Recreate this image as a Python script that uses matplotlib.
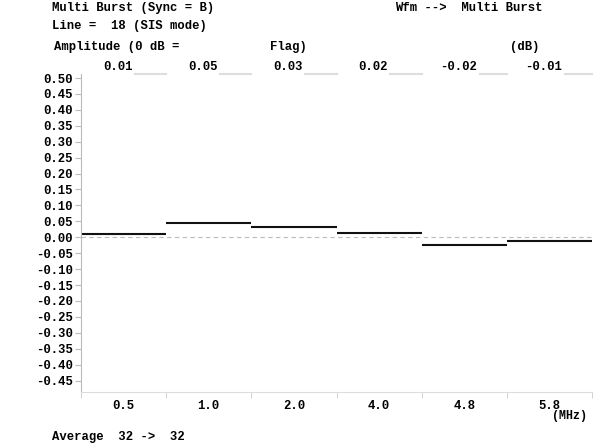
import matplotlib.pyplot as plt

# Multi burst amplitude per packet (dB)
freqs = ['0.5', '1.0', '2.0', '4.0', '4.8', '5.8']
header_vals = ['0.01', '0.05', '0.03', '0.02', '-0.02', '-0.01']
amplitude = [0.010, 0.046, 0.033, 0.014, -0.024, -0.011]
yticks = [0.50, 0.45, 0.40, 0.35, 0.30, 0.25, 0.20, 0.15, 0.10, 0.05, 0.00,
          -0.05, -0.10, -0.15, -0.20, -0.25, -0.30, -0.35, -0.40, -0.45]

plt.rcParams['font.family'] = ['Liberation Mono', 'DejaVu Sans Mono']
plt.rcParams['font.weight'] = 'bold'
fs = 8.8

fig = plt.figure(figsize=(6, 4.44), dpi=100)
ax = fig.add_axes([81 / 600, 1 - 392 / 444, 511 / 600, 318 / 444])

n = len(freqs)
for i, v in enumerate(amplitude):
    ax.hlines(v, i, i + 1, color='#111111', lw=1.5)

ax.axhline(0, color='#bbbbbb', lw=0.8, ls=(0, (4, 3)), zorder=0)

ax.set_xlim(0, n)
ax.set_ylim(-0.486, 0.5126)
ax.set_yticks(yticks)
ax.set_yticklabels(['%.2f' % t for t in yticks], fontsize=fs, fontweight='bold')
ax.set_xticks([i + 0.5 for i in range(n)])
ax.set_xticklabels(freqs, fontsize=fs, fontweight='bold')
ax.set_xticks(range(n + 1), minor=True)
ax.tick_params(axis='x', which='major', length=0, pad=6)
ax.tick_params(axis='x', which='minor', length=4, color='#cccccc', direction='out')
ax.tick_params(axis='y', length=4, color='#bbbbbb', pad=2)

for s in ['top', 'right']:
    ax.spines[s].set_visible(False)
ax.spines['left'].set_color('#bbbbbb')
ax.spines['bottom'].set_color('#dddddd')

# header values above each column, with faint rules at the top
for i, t in enumerate(header_vals):
    ax.text(i + 0.43, 1.022, t, transform=ax.get_xaxis_transform(),
            ha='center', va='center', fontsize=fs, fontweight='bold')
    start = i + (0.68 if t.startswith('-') else 0.63)
    ax.plot([start, i + 1.0], [1.0, 1.0], transform=ax.get_xaxis_transform(),
            color='#dddddd', lw=1.5, clip_on=False)

fig.text(52 / 600, 1 - 8 / 444, 'Multi Burst (Sync = B)', fontsize=fs, va='center')
fig.text(52 / 600, 1 - 26 / 444, 'Line =  18 (SIS mode)', fontsize=fs, va='center')
fig.text(395 / 600, 1 - 8 / 444, 'Wfm -->  Multi Burst', fontsize=fs, va='center')
fig.text(54 / 600, 1 - 47 / 444, 'Amplitude (0 dB =', fontsize=fs, va='center')
fig.text(270 / 600, 1 - 47 / 444, 'Flag)', fontsize=fs, va='center')
fig.text(510 / 600, 1 - 47 / 444, '(dB)', fontsize=fs, va='center')
fig.text(552 / 600, 1 - 416 / 444, '(MHz)', fontsize=8.4, va='center')
fig.text(52 / 600, 1 - 437 / 444, 'Average  32 ->  32', fontsize=fs, va='center')

fig.savefig('out.png', dpi=100)
